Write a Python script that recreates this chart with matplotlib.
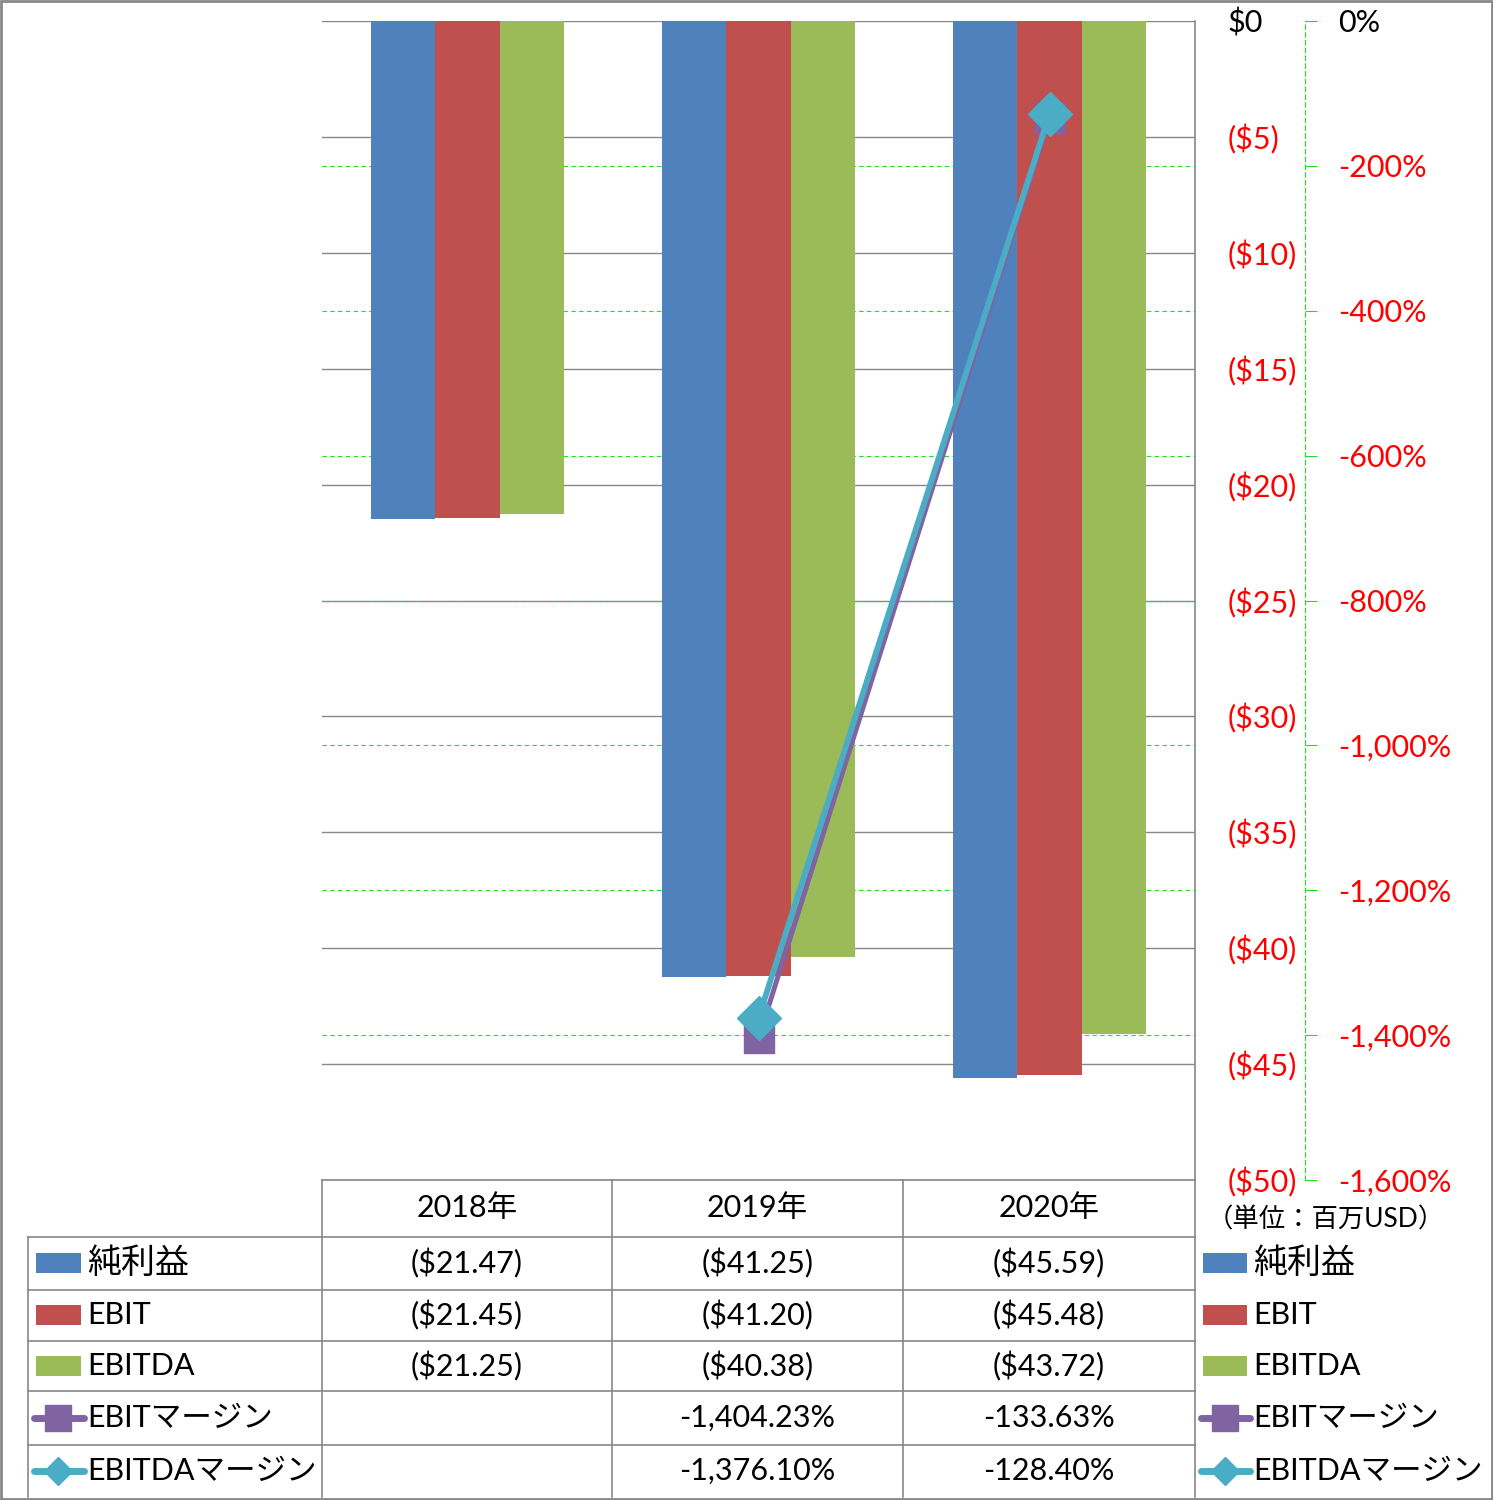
import numpy as np
import matplotlib
matplotlib.use("Agg")
import matplotlib.pyplot as plt
from matplotlib import transforms
from matplotlib.lines import Line2D
from matplotlib.patches import Rectangle
from matplotlib.ticker import FixedLocator, FuncFormatter

plt.rcParams['font.family'] = ['Lato', 'Noto Sans CJK JP', 'DejaVu Sans']

# ---------------- data ----------------
categories = ['2018年', '2019年', '2020年']
net_income = [-21.47, -41.25, -45.59]
ebit = [-21.45, -41.20, -45.48]
ebitda = [-21.25, -40.38, -43.72]
ebit_margin = [np.nan, -1404.23, -133.63]
ebitda_margin = [np.nan, -1376.10, -128.40]
bar_names = ['純利益', 'EBIT', 'EBITDA']
line_names = ['EBITマージン', 'EBITDAマージン']
usd_ticks = list(range(-50, 1, 5))
pct_ticks = list(range(-1600, 1, 200))
unit_label = '（単位：百万USD）'

# ---------------- style ----------------
C_BLUE, C_RED, C_GREEN = '#4F81BD', '#C0504D', '#9BBB59'
C_PURPLE, C_CYAN = '#8064A2', '#4BACC6'
GRAY = '#878787'
GGRID = '#22DD22'
FS = 22

W, H = 1493, 1500
fig = plt.figure(figsize=(W / 100, H / 100), dpi=100)


def fx(px):
    return px / W


def fy(py):
    return 1 - py / H


ax = fig.add_axes([fx(322), fy(1180), (1195 - 322) / W, (1180 - 21) / H])
ax2 = ax.twinx()

x = np.arange(len(categories))
bw = 0.222
bar_series = [net_income, ebit, ebitda]
bar_colors = [C_BLUE, C_RED, C_GREEN]
for i, (vals, col) in enumerate(zip(bar_series, bar_colors)):
    ax.bar(x + (i - 1) * bw, vals, bw, color=col, zorder=2)

ax.set_xlim(-0.5, len(categories) - 0.5)
ax.set_ylim(-50, 0)
ax.yaxis.tick_right()
ax.tick_params(axis='y', length=0, pad=23.5, labelsize=FS)
ax.yaxis.set_major_locator(FixedLocator(usd_ticks))
ax.yaxis.set_major_formatter(FuncFormatter(
    lambda v, p: '$0' if v == 0 else f'(${abs(v):.0f})'))
ax.set_xticks([])
ax.grid(True, axis='y', color=GRAY, linewidth=1.0, zorder=0)
ax.set_axisbelow(True)
for s in ['left', 'top']:
    ax.spines[s].set_visible(False)
for s in ['right', 'bottom']:
    ax.spines[s].set_color(GRAY)
    ax.spines[s].set_linewidth(1.2)

# secondary axis
ax2.set_ylim(-1600, 0)
ax2.tick_params(axis='y', length=8.5, width=0.8, color=GGRID, pad=15, labelsize=FS)
ax2.yaxis.set_major_locator(FixedLocator(pct_ticks))
ax2.yaxis.set_major_formatter(FuncFormatter(
    lambda v, p: '0%' if v == 0 else f'-{abs(v):,.0f}%'))
for s in ['left', 'top', 'bottom']:
    ax2.spines[s].set_visible(False)
ax2.spines['right'].set_position(('outward', 110 * 0.72))
ax2.spines['right'].set_color(GGRID)
ax2.spines['right'].set_linestyle((0, (4, 3)))
ax2.spines['right'].set_linewidth(0.8)

# secondary gridlines drawn behind bars
trans = transforms.blended_transform_factory(ax.transAxes, ax2.transData)
for v in pct_ticks:
    if v in (0, -1600):
        continue
    ax.plot([0, 1], [v, v], transform=trans, color=GGRID, linewidth=0.8,
            linestyle=(0, (4, 3)), zorder=1)

# margin lines
ax2.plot(x, ebit_margin, color=C_PURPLE, linewidth=3.6, marker='s',
         markersize=21, markerfacecolor=C_PURPLE, markeredgecolor=C_PURPLE,
         zorder=3)
ax2.plot(x, ebitda_margin, color=C_CYAN, linewidth=4.2, marker='D',
         markersize=22, markerfacecolor=C_CYAN, markeredgecolor=C_CYAN,
         zorder=4)

# ---------------- data table ----------------
col_edges = [322, 612, 903, 1195]
row_edges = [1237, 1290, 1341, 1391, 1445, 1497]
lw = 1.2


def hline(y, x0, x1):
    fig.add_artist(Line2D([fx(x0), fx(x1)], [fy(y), fy(y)], color=GRAY, linewidth=lw))


def vline(xp, y0, y1):
    fig.add_artist(Line2D([fx(xp), fx(xp)], [fy(y0), fy(y1)], color=GRAY, linewidth=lw))


for y in row_edges[:-1]:
    hline(y, 28, 1195)
vline(28, 1237, 1497)
for xp in col_edges[:-1]:
    vline(xp, 1180, 1497)
vline(1195, 1180, 1497)

col_centers = [(a + b) / 2 for a, b in zip(col_edges[:-1], col_edges[1:])]
for cx, cat in zip(col_centers, categories):
    fig.text(fx(cx), fy(1208), cat, ha='center', va='center', fontsize=FS)

row_centers = [1263, 1315, 1366, 1418, 1471]
all_rows = [net_income, ebit, ebitda, ebit_margin, ebitda_margin]
for r, vals in enumerate(all_rows):
    for cx, v in zip(col_centers, vals):
        if np.isnan(v):
            continue
        if r < 3:
            s = f'(${abs(v):.2f})'
        else:
            s = f'-{abs(v):,.2f}%'
        fig.text(fx(cx), fy(row_centers[r]), s, ha='center', va='center', fontsize=FS)


def draw_key(kx0, kx1, yc, r):
    if r < 3:
        fig.add_artist(Rectangle((fx(kx0), fy(yc + 10)), (kx1 - kx0) / W, 20 / H,
                                 color=bar_colors[r], linewidth=0))
    else:
        col = C_PURPLE if r == 3 else C_CYAN
        mk = 's' if r == 3 else 'D'
        ms = 19 if r == 3 else 14.5
        fig.add_artist(Line2D([fx(kx0 - 2), fx(kx1 + 3)], [fy(yc), fy(yc)], color=col,
                              linewidth=5, solid_capstyle='round'))
        fig.add_artist(Line2D([fx((kx0 + kx1) / 2)], [fy(yc)], color=col, marker=mk,
                              markersize=ms, linestyle='none'))


names = bar_names + line_names
for r, name in enumerate(names):
    yc = row_centers[r]
    fs = FS if any(c.isascii() for c in name) else 24.5
    draw_key(36, 81, yc, r)
    fig.text(fx(87), fy(yc), name, ha='left', va='center', fontsize=fs)
    # right legend
    draw_key(1203, 1247, yc, r)
    fig.text(fx(1253), fy(yc), name, ha='left', va='center', fontsize=fs)

fig.text(fx(1326), fy(1220), unit_label, ha='center', va='center', fontsize=19)

# figure border
fig.add_artist(Rectangle((0.0007, 0.0007), 0.9986, 0.9986, fill=False,
                         edgecolor='#888888', linewidth=2, transform=fig.transFigure))

# colour negative tick labels red (after ticks are laid out)
fig.canvas.draw()
for axis_obj, ticks in ((ax.yaxis, usd_ticks), (ax2.yaxis, pct_ticks)):
    for tick in axis_obj.get_major_ticks():
        v = tick.get_loc()
        c = 'black' if abs(v) < 1e-9 else 'red'
        tick.label1.set_color(c)
        tick.label2.set_color(c)

fig.savefig('out.png', dpi=100)
